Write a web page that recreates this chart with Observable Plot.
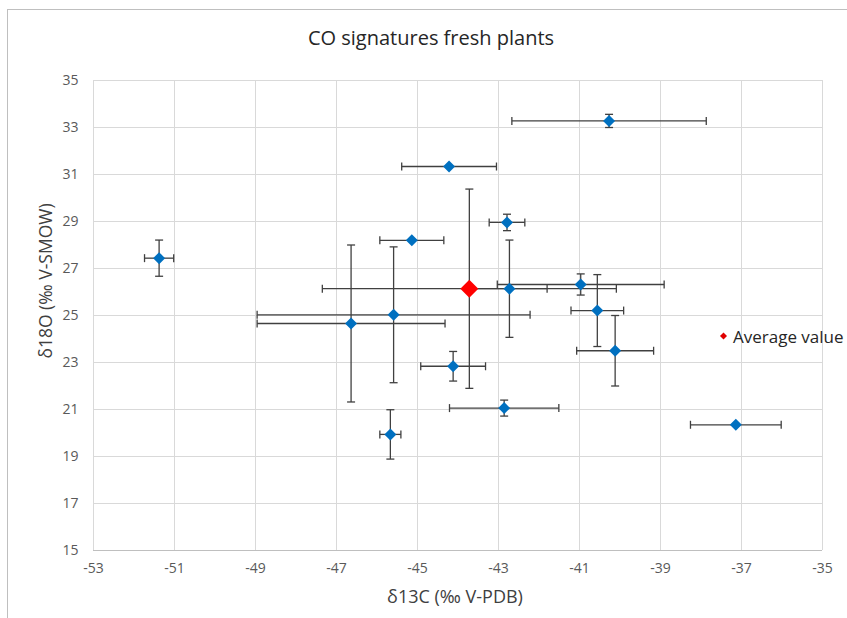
<!DOCTYPE html>
<html>
<head>
<meta charset="utf-8">
<script src="https://cdn.jsdelivr.net/npm/d3@7"></script>
<script src="https://cdn.jsdelivr.net/npm/@observablehq/plot@0.6"></script>
<style>
  body { margin: 0; background: #fff; }
  #wrap { position: relative; width: 847px; height: 618px; overflow: hidden; font-family: "Open Sans", sans-serif; }
  #border { position: absolute; left: 7px; top: 9px; width: 900px; height: 700px; border: 1px solid #bfbfbf; box-sizing: border-box; }
  #chart { position: absolute; left: 0; top: 0; }
  .lbl { position: absolute; white-space: nowrap; color: #404040; }
  #title { left: 431px; top: 37px; transform: translate(-50%, -50%); font-size: 20px; color: #262626; }
  #ytitle { left: 45px; top: 281px; transform: translate(-50%, -50%) rotate(-90deg); font-size: 17.5px; color: #404040; }
  #xtitle { left: 455px; top: 596px; transform: translate(-50%, -50%); font-size: 18px; color: #404040; }
  #legend { left: 721px; top: 336px; transform: translateY(-50%); font-size: 17px; color: #262626; display: flex; align-items: center; }
  #legend .key { width: 5px; height: 5px; background: #e00000; transform: rotate(45deg); margin-right: 7px; }
</style>
</head>
<body>
<div id="wrap">
  <div id="border"></div>
  <div id="chart"></div>
  <div id="title" class="lbl">CO signatures fresh plants</div>
  <div id="ytitle" class="lbl">δ18O (‰ V-SMOW)</div>
  <div id="xtitle" class="lbl">δ13C (‰ V-PDB)</div>
  <div id="legend" class="lbl"><span class="key"></span><span>Average value</span></div>
</div>
<script>
// Fresh plant samples
const d13C   = [-51.38, -44.22, -45.14, -42.79, -40.27, -42.73, -40.97, -40.56, -40.12, -42.86, -37.14, -44.12, -45.59, -46.64, -45.67];
const d18O   = [ 27.44,  31.34,  28.20,  28.96,  33.28,  26.14,  26.32,  25.21,  23.50,  21.06,  20.35,  22.84,  25.03,  24.66,  19.94];
const err13C = [  0.36,   1.17,   0.79,   0.44,   2.40,   0.93,   2.06,   0.65,   0.95,   1.35,   1.12,   0.80,   3.37,   2.32,   0.26];
const err18O = [  0.77,   0,      0,      0.35,   0.28,   2.07,   0.45,   1.53,   1.50,   0.34,   0,      0.63,   2.89,   3.34,   1.05];

// Average value
const avg13C = [-43.72];
const avg18O = [26.14];
const avgErr13C = [3.63];
const avgErr18O = [4.24];

const xTicks = [-53, -51, -49, -47, -45, -43, -41, -39, -37, -35];
const yTicks = [15, 17, 19, 21, 23, 25, 27, 29, 31, 33, 35];

const pts = d13C.map((x, i) => ({x, y: d18O[i], xe: err13C[i], ye: err18O[i]}));
const avg = avg13C.map((x, i) => ({x, y: avg18O[i], xe: avgErr13C[i], ye: avgErr18O[i]}));
const all = pts.concat(avg);

const diamond = {draw(ctx, size) { const r = Math.sqrt(size / Math.PI); ctx.moveTo(0, -r); ctx.lineTo(r, 0); ctx.lineTo(0, r); ctx.lineTo(-r, 0); ctx.closePath(); }};
const capV = {draw(ctx, size) { const r = Math.sqrt(size / Math.PI); ctx.moveTo(0, -r); ctx.lineTo(0, r); }};
const capH = {draw(ctx, size) { const r = Math.sqrt(size / Math.PI); ctx.moveTo(-r, 0); ctx.lineTo(r, 0); }};

const barStyle = {stroke: "#404040", strokeWidth: 1.3};
const withY = all.filter(d => d.ye > 0);

const chart = Plot.plot({
  width: 847, height: 618,
  marginTop: 80, marginLeft: 93, marginRight: 25, marginBottom: 68,
  x: {domain: [-53, -35], label: null},
  y: {domain: [15, 35], label: null},
  style: {fontFamily: "'Open Sans', sans-serif", fontSize: "14px", color: "#595959", background: "transparent", overflow: "visible"},
  marks: [
    Plot.gridX(xTicks, {stroke: "#d9d9d9", strokeOpacity: 1}),
    Plot.gridY(yTicks, {stroke: "#d9d9d9", strokeOpacity: 1}),
    Plot.ruleY([15], {stroke: "#bfbfbf"}),
    Plot.axisX(xTicks, {tickSize: 0, tickPadding: 13, label: null, tickFormat: d => String(d)}),
    Plot.axisY(yTicks, {tickSize: 0, tickPadding: 15, label: null, tickFormat: d => String(d)}),
    // horizontal error bars
    Plot.link(all, {x1: d => d.x - d.xe, x2: d => d.x + d.xe, y1: "y", y2: "y", ...barStyle}),
    Plot.dot(all, {x: d => d.x - d.xe, y: "y", symbol: capV, r: 4, fill: "none", ...barStyle}),
    Plot.dot(all, {x: d => d.x + d.xe, y: "y", symbol: capV, r: 4, fill: "none", ...barStyle}),
    // vertical error bars
    Plot.link(withY, {x1: "x", x2: "x", y1: d => d.y - d.ye, y2: d => d.y + d.ye, ...barStyle}),
    Plot.dot(withY, {x: "x", y: d => d.y - d.ye, symbol: capH, r: 4, fill: "none", ...barStyle}),
    Plot.dot(withY, {x: "x", y: d => d.y + d.ye, symbol: capH, r: 4, fill: "none", ...barStyle}),
    // markers
    Plot.dot(pts, {x: "x", y: "y", symbol: diamond, r: 6, fill: "#0070C0", stroke: "none"}),
    Plot.dot(avg, {x: "x", y: "y", symbol: diamond, r: 9, fill: "#FF0000", stroke: "none"})
  ]
});
document.getElementById("chart").appendChild(chart);
</script>
</body>
</html>
